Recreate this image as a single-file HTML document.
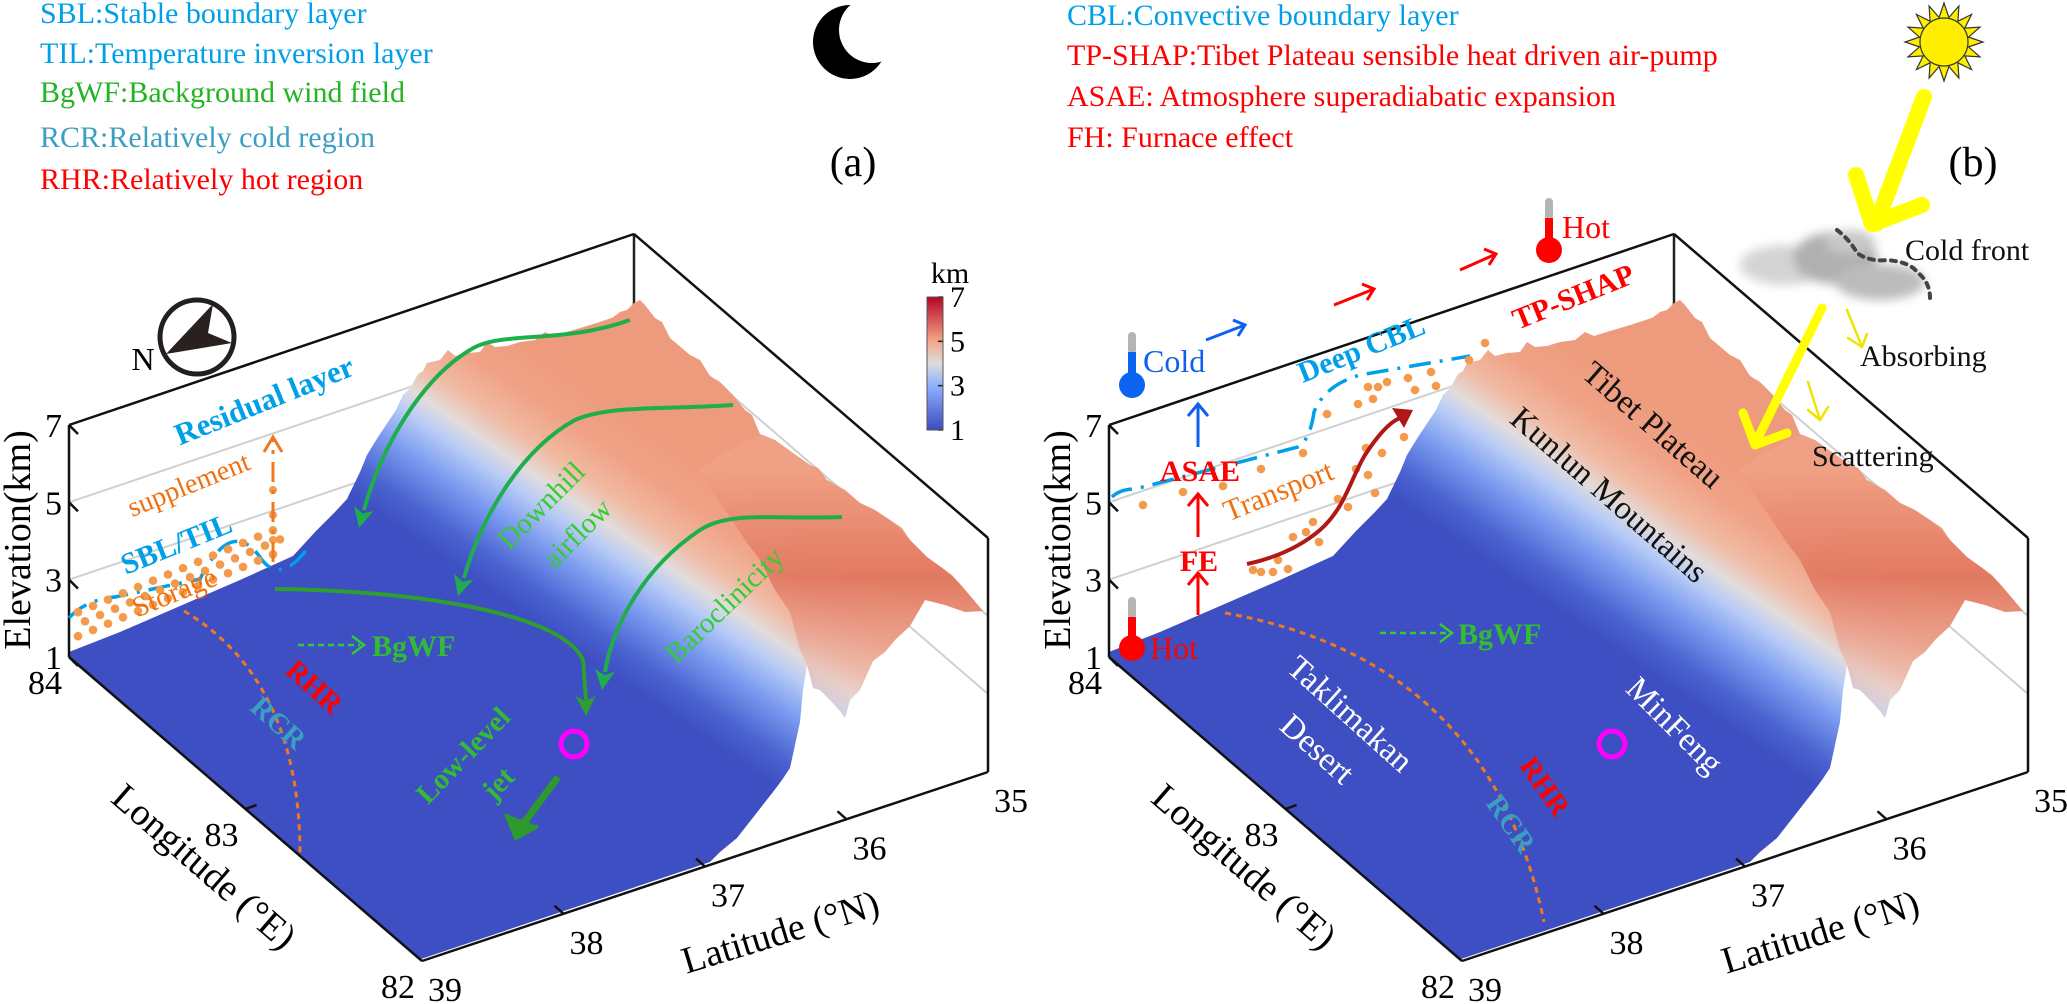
<!DOCTYPE html>
<html><head><meta charset="utf-8">
<style>
html,body{margin:0;padding:0;background:#fff;}
svg{display:block;}
svg text{font-family:"Liberation Serif","Times New Roman",serif;}
</style></head>
<body>
<svg id="fig" width="2067" height="1004" viewBox="0 0 2067 1004" xmlns="http://www.w3.org/2000/svg" font-family="Liberation Serif, serif">
<defs>
  <linearGradient id="terrGrad" gradientUnits="userSpaceOnUse" x1="560" y1="640" x2="690" y2="450">
    <stop offset="0" stop-color="#3d4fc2"/>
    <stop offset="0.12" stop-color="#4a62d0"/>
    <stop offset="0.3" stop-color="#7c9cf0"/>
    <stop offset="0.44" stop-color="#b8ccf6"/>
    <stop offset="0.53" stop-color="#e2dcdc"/>
    <stop offset="0.64" stop-color="#f0bba4"/>
    <stop offset="0.8" stop-color="#f0a286"/>
    <stop offset="1" stop-color="#ee9a7c"/>
  </linearGradient>
  <linearGradient id="faceGrad" gradientUnits="userSpaceOnUse" x1="0" y1="470" x2="0" y2="710">
    <stop offset="0" stop-color="#f0a286" stop-opacity="0.8"/>
    <stop offset="0.45" stop-color="#de6e58" stop-opacity="0.75"/>
    <stop offset="1" stop-color="#f2d6cc" stop-opacity="0.5"/>
  </linearGradient>
  <linearGradient id="cbGrad" x1="0" y1="1" x2="0" y2="0">
    <stop offset="0" stop-color="#3b4cc0"/>
    <stop offset="0.33" stop-color="#8db0fe"/>
    <stop offset="0.5" stop-color="#dddcdc"/>
    <stop offset="0.67" stop-color="#f4a688"/>
    <stop offset="1" stop-color="#b40426"/>
  </linearGradient>
  <filter id="blur"><feGaussianBlur stdDeviation="5"/></filter>
  <g id="terrain">
    <polygon fill="url(#terrGrad)" points="421,959 69,657 69,652 120,632 180,606 240,580 293,556 316,531 335,512 347,499 360,472 367,455 378,437 388,422 396,410 403,395 410,388 418,374 423,371 427,363 440,360 448,350 455,356 467,353 480,352 487,342 495,347 507,346 520,342 535,340 545,332 554,336 570,331 587,326 600,322 612,318 620,312 627,310 634,303 640,300 645,305 655,318 662,322 670,338 690,355 700,360 710,376 720,382 733,395 745,410 752,415 760,434 775,440 793,453 810,465 818,468 827,480 845,490 860,503 875,510 893,522 902,528 910,540 927,557 945,570 952,575 960,584 972,598 983,611 965,612 945,605 925,600 910,626 895,640 885,652 873,661 860,690 850,700 845,718 840,711 830,700 820,690 813,688 807,665 803,690 800,722 795,745 790,768 782,780 773,792 755,815 737,838 720,852 710,862"/>
    <polygon fill="url(#faceGrad)" points="700,470 720,455 760,434 775,440 793,453 810,465 827,480 845,490 860,503 875,510 893,522 910,540 927,557 945,570 960,584 983,611 965,612 945,605 925,600 910,626 895,640 885,652 873,661 860,690 850,700 845,718 840,711 830,700 820,690 813,688 807,665 800,650 790,612 775,590 760,560 745,540 732,520 718,500"/>
  </g>
</defs>

<!-- Legends -->
<g font-size="30" style="font-family:'Liberation Serif',serif">
  <text x="40" y="23" fill="#00a0e9">SBL:Stable boundary layer</text>
  <text x="40" y="63" fill="#00a0e9">TIL:Temperature inversion layer</text>
  <text x="40" y="102" fill="#22b422">BgWF:Background wind field</text>
  <text x="40" y="147" fill="#3a9fc0">RCR:Relatively cold region</text>
  <text x="40" y="189" fill="#ff0000">RHR:Relatively hot region</text>
</g>
<g font-size="30" style="font-family:'Liberation Serif',serif">
  <text x="1067" y="25" fill="#00a0e9">CBL:Convective boundary layer</text>
  <text x="1067" y="65" fill="#ff0000">TP-SHAP:Tibet Plateau sensible heat driven air-pump</text>
  <text x="1067" y="106" fill="#ff0000">ASAE: Atmosphere superadiabatic expansion</text>
  <text x="1067" y="147" fill="#ff0000">FH: Furnace effect</text>
</g>

<!-- Moon -->
<g>
  <circle cx="850" cy="42" r="37" fill="#000"/>
  <circle cx="872" cy="30" r="33" fill="#fff"/>
</g>
<text x="853" y="176" font-size="42" text-anchor="middle">(a)</text>
<text x="1973" y="176" font-size="42" text-anchor="middle">(b)</text>

<g id="sun"></g>

<g id="gridA"></g>
<g id="gridB"></g>

<use href="#terrain"/>
<use href="#terrain" transform="translate(1040,0)"/>

<g id="axesA"></g>
<g id="axesB"></g>

<g id="colorbar">
  <rect x="927" y="297" width="16" height="133" fill="url(#cbGrad)"/>
  <text x="950" y="283" font-size="30" text-anchor="middle">km</text>
</g>

<g>
  <circle cx="197" cy="337" r="37" fill="none" stroke="#231f1f" stroke-width="5"/>
  <path d="M213,304 L166,354 L232,343 L208,333 Z" fill="#2a2020"/>
  <text x="143" y="370" font-size="32" text-anchor="middle">N</text>
</g>

<g id="arrowHeads"></g>

<!-- Panel A annotations -->
<g>
  <path d="M69,618 Q85,600 115,597 L200,579 Q232,515 262,560 Q282,585 310,545" fill="none" stroke="#00a0e9" stroke-width="3.5" stroke-dasharray="22,9,3,9"/>
  <g id="storageDots" fill="#f39a4c"></g>
  <line x1="273" y1="562" x2="273" y2="440" stroke="#f07820" stroke-width="3" stroke-dasharray="20,8,4,8"/>
  <path d="M264,452 L273,437 L282,452" fill="none" stroke="#f07820" stroke-width="3"/>
  <text transform="translate(268,410) rotate(-22)" font-size="31" font-weight="bold" fill="#00a0e9" text-anchor="middle">Residual layer</text>
  <text transform="translate(192,493) rotate(-22)" font-size="28" fill="#f07010" text-anchor="middle">supplement</text>
  <text transform="translate(180,553) rotate(-22)" font-size="30" font-weight="bold" fill="#00a0e9" text-anchor="middle">SBL/TIL</text>
  <text transform="translate(178,601) rotate(-22)" font-size="29" fill="#f07010" text-anchor="middle">Storage</text>
  <path d="M184,611 Q300,680 300,855" fill="none" stroke="#f07820" stroke-width="3" stroke-dasharray="6,5"/>
  <text transform="translate(308,694) rotate(42)" font-size="29" font-weight="bold" fill="#ff0000" text-anchor="middle">RHR</text>
  <text transform="translate(272,730) rotate(42)" font-size="29" font-weight="bold" fill="#3aa0c0" text-anchor="middle">RCR</text>
  <line x1="298" y1="645" x2="360" y2="645" stroke="#33cc33" stroke-width="2.5" stroke-dasharray="6,4"/>
  <path d="M352,636 L364,645 L352,654" fill="none" stroke="#33cc33" stroke-width="2.5"/>
  <text x="372" y="656" font-size="30" font-weight="bold" fill="#33bb33">BgWF</text>
  <path d="M630,320 C560,345 500,330 470,350 C420,380 380,450 364,510" fill="none" stroke="#1fae4c" stroke-width="4"/>
  <path d="M733,405 C660,410 610,405 575,420 C520,450 480,520 464,578" fill="none" stroke="#1fae4c" stroke-width="4"/>
  <path d="M842,517 C780,520 730,510 700,530 C640,570 612,630 605,672" fill="none" stroke="#1fae4c" stroke-width="4"/>
  <path d="M275,589 C400,590 560,610 583,660 L586,700" fill="none" stroke="#2e9e2e" stroke-width="4"/>
  <line x1="558" y1="777" x2="524" y2="823" stroke="#2e9a2e" stroke-width="7"/>
  <path d="M506,814 L516,838 L538,826" fill="#2e9a2e" stroke="#2e9a2e" stroke-width="4"/>
  <circle cx="574" cy="744" r="13" fill="none" stroke="#ff00ff" stroke-width="5"/>
  <text transform="translate(548,512) rotate(-45)" font-size="29" fill="#33cc33" text-anchor="middle">Downhill</text>
  <text transform="translate(584,540) rotate(-45)" font-size="29" fill="#33cc33" text-anchor="middle">airflow</text>
  <text transform="translate(731,612) rotate(-44)" font-size="29" fill="#33cc33" text-anchor="middle">Baroclinicity</text>
  <text transform="translate(470,762) rotate(-46)" font-size="29" font-weight="bold" fill="#33bb33" text-anchor="middle">Low-level</text>
  <text transform="translate(505,790) rotate(-46)" font-size="29" font-weight="bold" fill="#33bb33" text-anchor="middle">jet</text>
</g>

<!-- Panel B annotations -->
<g>
  <path d="M1112,497 Q1120,489 1135,489 L1240,462 L1298,447 Q1310,440 1314,412 Q1325,385 1360,375 L1470,356" fill="none" stroke="#00a0e9" stroke-width="3.5" stroke-dasharray="22,9,3,9"/>
  <g id="transportDots" fill="#f39a4c"></g>
  <path d="M1247,564 C1275,558 1300,547 1320,530 C1345,508 1350,480 1365,455 C1378,435 1390,422 1400,418" fill="none" stroke="#b01818" stroke-width="4"/>
  <path d="M1392,408 L1413,410 L1404,428 Z" fill="#b01818"/>
  <text transform="translate(1282,500) rotate(-22)" font-size="30" fill="#f07010" text-anchor="middle">Transport</text>
  <text transform="translate(1365,358) rotate(-22)" font-size="30" font-weight="bold" fill="#00a0e9" text-anchor="middle">Deep CBL</text>
  <text transform="translate(1577,306) rotate(-22)" font-size="30" font-weight="bold" fill="#ff0000" text-anchor="middle">TP-SHAP</text>
  <text x="1200" y="481" font-size="30" font-weight="bold" fill="#ff0000" text-anchor="middle">ASAE</text>
  <text x="1199" y="571" font-size="30" font-weight="bold" fill="#ff0000" text-anchor="middle">FE</text>
  <g stroke-width="3" fill="none">
    <line x1="1198" y1="447" x2="1198" y2="404" stroke="#1060f0"/><path d="M1188,416 L1198,404 L1208,416" stroke="#1060f0"/>
    <line x1="1198" y1="537" x2="1198" y2="494" stroke="#ff0000"/><path d="M1188,506 L1198,494 L1208,506" stroke="#ff0000"/>
    <line x1="1198" y1="615" x2="1198" y2="573" stroke="#ff0000"/><path d="M1188,585 L1198,573 L1208,585" stroke="#ff0000"/>
    <line x1="1206" y1="340" x2="1245" y2="325" stroke="#1060f0"/><path d="M1233,320 L1245,325 L1238,336" stroke="#1060f0"/>
    <line x1="1334" y1="305" x2="1374" y2="289" stroke="#ff0000"/><path d="M1362,284 L1374,289 L1367,300" stroke="#ff0000"/>
    <line x1="1460" y1="270" x2="1496" y2="254" stroke="#ff0000"/><path d="M1484,249 L1496,254 L1489,265" stroke="#ff0000"/>
  </g>
  <g>
    <rect x="1128" y="332" width="8" height="22" rx="4" fill="#b4b4b4"/>
    <rect x="1128" y="352" width="8" height="30" fill="#0a64f0"/>
    <circle cx="1132" cy="385" r="13" fill="#0a64f0"/>
  </g>
  <text x="1143" y="372" font-size="32" fill="#1060f0">Cold</text>
  <g>
    <rect x="1545" y="198" width="8" height="22" rx="4" fill="#b4b4b4"/>
    <rect x="1545" y="218" width="8" height="28" fill="#ff0000"/>
    <circle cx="1549" cy="250" r="13" fill="#ff0000"/>
  </g>
  <text x="1562" y="238" font-size="32" fill="#ff0000">Hot</text>
  <g>
    <rect x="1128" y="597" width="8" height="22" rx="4" fill="#b4b4b4"/>
    <rect x="1128" y="617" width="8" height="28" fill="#ff0000"/>
    <circle cx="1132" cy="648" r="13" fill="#ff0000"/>
  </g>
  <text x="1150" y="659" font-size="32" fill="#ff0000">Hot</text>
  <text transform="translate(1646,433) rotate(41)" font-size="33" fill="#111" text-anchor="middle">Tibet Plateau</text>
  <text transform="translate(1602,503) rotate(41)" font-size="33" fill="#111" text-anchor="middle">Kunlun Mountains</text>
  <path d="M1225,613 Q1490,660 1544,922" fill="none" stroke="#f07820" stroke-width="3" stroke-dasharray="6,5"/>
  <text transform="translate(1537,792) rotate(55)" font-size="29" font-weight="bold" fill="#ff0000" text-anchor="middle">RHR</text>
  <text transform="translate(1503,829) rotate(55)" font-size="29" font-weight="bold" fill="#3aa0c0" text-anchor="middle">RCR</text>
  <text transform="translate(1343,722) rotate(42)" font-size="33" fill="#fff" text-anchor="middle">Taklimakan</text>
  <text transform="translate(1310,757) rotate(42)" font-size="33" fill="#fff" text-anchor="middle">Desert</text>
  <text transform="translate(1667,733) rotate(45)" font-size="33" fill="#fff" text-anchor="middle">MinFeng</text>
  <circle cx="1612" cy="744" r="13" fill="none" stroke="#ff00ff" stroke-width="5"/>
  <line x1="1380" y1="633" x2="1448" y2="633" stroke="#33cc33" stroke-width="2.5" stroke-dasharray="6,4"/>
  <path d="M1440,624 L1452,633 L1440,642" fill="none" stroke="#33cc33" stroke-width="2.5"/>
  <text x="1458" y="644" font-size="30" font-weight="bold" fill="#33bb33">BgWF</text>

  <g filter="url(#blur)">
    <ellipse cx="1785" cy="265" rx="45" ry="20" fill="#d4d4d4"/>
    <ellipse cx="1835" cy="258" rx="42" ry="26" fill="#b0b0b0"/>
    <ellipse cx="1880" cy="282" rx="45" ry="18" fill="#bcbcbc"/>
    <ellipse cx="1850" cy="242" rx="25" ry="12" fill="#c8c8c8"/>
  </g>
  <path d="M1837,230 Q1850,240 1857,253 Q1870,262 1887,260 Q1910,262 1917,272 Q1930,282 1930,298" fill="none" stroke="#444" stroke-width="4" stroke-dasharray="5,6" stroke-linecap="round"/>
  <text x="1905" y="260" font-size="30" fill="#111">Cold front</text>
  <g stroke="#ffff00" fill="none" stroke-linecap="round" stroke-linejoin="round">
    <path d="M1924,97 L1876,224" stroke-width="16"/>
    <path d="M1856,175 L1872,224 L1922,205" stroke-width="16"/>
    <path d="M1822,308 L1756,442" stroke-width="9"/>
    <path d="M1743,413 L1755,445 L1787,433" stroke-width="9"/>
    <path d="M1847,310 L1862,347" stroke="#f0e400" stroke-width="2.5"/>
    <path d="M1848,338 L1862,347 L1867,334" stroke="#f0e400" stroke-width="2.5"/>
    <path d="M1808,382 L1820,420" stroke="#f0e400" stroke-width="2.5"/>
    <path d="M1808,410 L1820,420 L1828,407" stroke="#f0e400" stroke-width="2.5"/>
  </g>
  <text x="1860" y="366" font-size="30" fill="#111">Absorbing</text>
  <text x="1812" y="466" font-size="30" fill="#111">Scattering</text>
</g>

<script>
// ----- axis data -----
const elevTicks = [1, 3, 5, 7];
const gridLevels = [3, 5];
const lonTicks = [84, 83, 82];
const latTicks = [39, 38, 37, 36, 35];
const cbTicks = [1, 3, 5, 7];
const storageRows = [0, 1, 2];
const transportDotsX = [1143,1183,1223,1261,1303,1327,1368,1378,1387,1358,1373,1408,1415,1431,1436,1469,1485,1404,1382,1366,1356,1368,1375,1338,1348,1313,1306,1293,1319,1278,1253,1261,1273,1288];
const transportDotsY = [505,492,486,469,453,414,387,387,382,404,399,378,390,372,386,360,343,437,453,448,469,475,493,499,507,522,532,537,542,560,570,572,572,569];

const NS = "http://www.w3.org/2000/svg";
const L = {x:69, y:657}, F = {x:422, y:961}, R = {x:988, y:772};
const TOPL = {x:69, y:425}, T = {x:634, y:234}, TR = {x:988, y:538};
function elevY(z){ return 657 - (z - 1) * 38.67; }
function backY(z){ return 466 - (z - 1) * 38.67; }
function rightY(z){ return 772 - (z - 1) * 39; }
function lonPt(lon){ const t = (84 - lon) / 2; return {x: L.x + (F.x - L.x) * t, y: L.y + (F.y - L.y) * t}; }
function latPt(lat){ const t = (39 - lat) / 4; return {x: F.x + (R.x - F.x) * t, y: F.y + (R.y - F.y) * t}; }
function cbY(z){ return 430 - (z - 1) / 6 * 133; }

function mk(tag, attrs, parent){
  const e = document.createElementNS(NS, tag);
  for (const k in attrs) e.setAttribute(k, attrs[k]);
  parent.appendChild(e);
  return e;
}

function drawGrid(g, dx){
  gridLevels.forEach(z => {
    const a = mk('line', {x1: 69+dx, y1: elevY(z), x2: 634+dx, y2: backY(z), stroke:'#d0d0d0', 'stroke-width':2}, g);
    
    
    const b = mk('line', {x1: 634+dx, y1: backY(z), x2: 988+dx, y2: rightY(z), stroke:'#d0d0d0', 'stroke-width':2}, g);
    
    
  });
  const v = mk('line', {x1: 634+dx, y1: 234, x2: 634+dx, y2: 466, stroke:'#222', 'stroke-width':2.5}, g);
  
  
}

function drawAxes(g, dx){
  const edges = [[L, TOPL],[TOPL, T],[T, TR],[TR, R],[L, F],[F, R]];
  edges.forEach(e => {
    const ln = mk('line', {x1:e[0].x+dx, y1:e[0].y, x2:e[1].x+dx, y2:e[1].y, stroke:'#111', 'stroke-width':2.5}, g);
    
    
  });
  elevTicks.forEach(z => {
    const y = elevY(z);
    const tk = mk('line', {x1:69+dx, y1:y, x2:78+dx, y2:y+9, stroke:'#111', 'stroke-width':2.5}, g);
    
    
    const t = mk('text', {x:62+dx, y:y+12, 'font-size':34, 'text-anchor':'end'}, g);
    t.textContent = z;
    
    
  });
  lonTicks.forEach(lon => {
    const p = lonPt(lon);
    if (lon !== 84 && lon !== 82){
      const tk = mk('line', {x1:p.x+dx, y1:p.y, x2:p.x+dx+11, y2:p.y-4, stroke:'#111', 'stroke-width':2.5}, g);
      
      
    }
    const t = mk('text', {x:p.x+dx-24, y:p.y+37, 'font-size':34, 'text-anchor':'middle'}, g);
    t.textContent = lon;
    
    
  });
  latTicks.forEach(lat => {
    const p = latPt(lat);
    if (lat !== 39 && lat !== 35){
      const tk = mk('line', {x1:p.x+dx, y1:p.y, x2:p.x+dx-9, y2:p.y-8, stroke:'#111', 'stroke-width':2.5}, g);
      
      
    }
    const t = mk('text', {x:p.x+dx+23, y:p.y+40, 'font-size':34, 'text-anchor':'middle'}, g);
    t.textContent = lat;
    
    
  });
  const ey = mk('text', {transform:'translate('+(30+dx)+',540) rotate(-90)', 'font-size':38, 'text-anchor':'middle'}, g);
  ey.textContent = 'Elevation(km)';
  
  
  const lx = mk('text', {transform:'translate('+(196+dx)+',876) rotate(41)', 'font-size':38, 'text-anchor':'middle'}, g);
  lx.textContent = 'Longitude (°E)';
  
  
  const la = mk('text', {transform:'translate('+(784+dx)+',944) rotate(-17)', 'font-size':38, 'text-anchor':'middle'}, g);
  la.textContent = 'Latitude (°N)';
  
  
}

drawGrid(document.getElementById('gridA'), 0);
drawGrid(document.getElementById('gridB'), 1040);
drawAxes(document.getElementById('axesA'), 0);
drawAxes(document.getElementById('axesB'), 1040);

// arrowheads for green curved arrows
const ah = document.getElementById('arrowHeads');
function arrowHead(tx, ty, dxv, dyv, color){
  const n = Math.hypot(dxv, dyv), ux = dxv / n, uy = dyv / n;
  const bx = tx - ux * 20, by = ty - uy * 20;
  const px = -uy * 10, py = ux * 10;
  const p = mk('polygon', {points: tx+','+ty+' '+(bx+px)+','+(by+py)+' '+(bx+ux*5)+','+(by+uy*5)+' '+(bx-px)+','+(by-py), fill: color}, ah);
  
  
}
arrowHead(359, 528, -0.25, 1, '#1fae4c');
arrowHead(458, 596, -0.3, 1, '#1fae4c');
arrowHead(602, 690, -0.15, 1, '#1fae4c');
arrowHead(586, 716, 0.02, 1, '#2e9e2e');

// colorbar ticks
const cb = document.getElementById('colorbar');
cbTicks.forEach(z => {
  const y = cbY(z);
  const tk = mk('line', {x1:938, y1:y, x2:943, y2:y, stroke:'#222', 'stroke-width':1.5}, cb);
  
  
  const t = mk('text', {x:950, y:y+10, 'font-size':30}, cb);
  t.textContent = z;
  
  
});
mk('rect', {x:927, y:297, width:16, height:133, fill:'none', stroke:'#555', 'stroke-width':1}, cb);

// storage dots
const sd = document.getElementById('storageDots');
for (let i = 0; i < 14; i++){
  storageRows.forEach(r => {
    const x = 78 + i * 15 + (r % 2) * 7;
    const yb = 650 - (x - 69) * 0.42;
    if (x > 290) return;
    const c = mk('circle', {cx:x, cy:yb - 10 - r * 12, r:4.3}, sd);
    
    
  });
}
[[273,540],[273,515],[273,490]].forEach(p => {
  const c = mk('circle', {cx:p[0], cy:p[1], r:4}, sd);
  
  
});

// transport dots
const td = document.getElementById('transportDots');
transportDotsX.forEach((x, i) => {
  const c = mk('circle', {cx:x, cy:transportDotsY[i], r:4.3}, td);
  
  
});

// sun
const sun = document.getElementById('sun');
let pts = [];
for (let i = 0; i < 32; i++){
  const a = i * Math.PI / 16;
  const r = (i % 2 === 0) ? 39 : 25;
  pts.push((1944 + r * Math.cos(a)).toFixed(1) + ',' + (42 + r * Math.sin(a)).toFixed(1));
}
const rays = mk('polygon', {points: pts.join(' '), fill:'#ffee00', stroke:'#333', 'stroke-width':1.2}, sun);


const core = mk('circle', {cx:1944, cy:42, r:24, fill:'#ffee00', stroke:'#333', 'stroke-width':1.2}, sun);


</script>
</svg>
</body></html>
